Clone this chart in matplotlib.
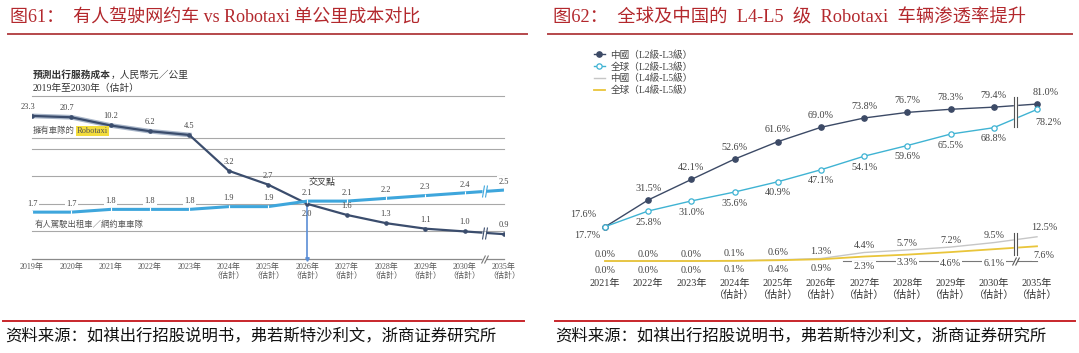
import numpy as np
import matplotlib
matplotlib.use("Agg")
import matplotlib.pyplot as plt
from matplotlib.lines import Line2D
from matplotlib.markers import MarkerStyle
from matplotlib.transforms import Affine2D, offset_copy

plt.rcParams['font.family'] = ['Liberation Serif', 'Noto Sans CJK SC', 'DejaVu Sans']

# ---- data: figure 61 (cost per km, RMB) ----
years_61 = ['2019年', '2020年', '2021年', '2022年', '2023年',
            '2024年\n（估計）', '2025年\n（估計）', '2026年\n（估計）', '2027年\n（估計）',
            '2028年\n（估計）', '2029年\n（估計）', '2030年\n（估計）', '2035年\n（估計）']
robotaxi_cost = [23.3, 20.7, 10.2, 6.2, 4.5, 3.2, 2.7, 2.0, 1.6, 1.3, 1.1, 1.0, 0.9]
human_cost = [1.7, 1.7, 1.8, 1.8, 1.8, 1.9, 1.9, 2.1, 2.1, 2.2, 2.3, 2.4, 2.5]
cross_idx = 7

# ---- data: figure 62 (penetration, %) ----
years_62 = ['2021年', '2022年', '2023年', '2024年\n（估計）', '2025年\n（估計）',
            '2026年\n（估計）', '2027年\n（估計）', '2028年\n（估計）', '2029年\n（估計）',
            '2030年\n（估計）', '2035年\n（估計）']
china_l23 = [17.6, 31.5, 42.1, 52.6, 61.6, 69.0, 73.8, 76.7, 78.3, 79.4, 81.0]
global_l23 = [17.7, 25.8, 31.0, 35.6, 40.9, 47.1, 54.1, 59.6, 65.5, 68.8, 78.2]
china_l45 = [0.0, 0.0, 0.0, 0.1, 0.6, 1.3, 4.4, 5.7, 7.2, 9.5, 12.5]
global_l45 = [0.0, 0.0, 0.0, 0.1, 0.4, 0.9, 2.3, 3.3, 4.6, 6.1, 7.6]
legend_62 = ['中國（L2級-L3級）', '全球（L2級-L3級）', '中國（L4級-L5級）', '全球（L4級-L5級）']

RED = '#b3282d'
W, H = 1079, 353


def fx(x):
    return x / W


def fy(y):
    return 1 - y / H


fig = plt.figure(figsize=(W / 100, H / 100), dpi=100)
fig.patch.set_facecolor('white')


def brk(ax, x, y, color, size=9, angle=-12):
    # little "||" break mark with a white gap
    ax.plot([x], [y], marker='s', ms=3.2, color='white', mec='none', zorder=8, clip_on=False)
    ms = MarkerStyle('|', transform=Affine2D().rotate_deg(angle))
    for dx in (-1.3, 1.3):
        tr = offset_copy(ax.transData, fig=fig, x=dx, y=0, units='points')
        ax.plot([x], [y], marker=ms, ms=size, color=color, mew=0.8,
                transform=tr, zorder=9, clip_on=False, linestyle='none')


# ================= left chart =================
K, C = 4.5, 0.42


def fwd(v):
    v = np.asarray(v, float)
    with np.errstate(all='ignore'):
        return np.where(v > K, K + C * np.log(np.maximum(v, 1e-12) / K), v)


def inv(p):
    p = np.asarray(p, float)
    with np.errstate(all='ignore'):
        return np.where(p > K, K * np.exp(np.minimum(p - K, 50) / C), p)


ax1 = fig.add_axes([fx(32), 1 - 259 / H, 472 / W, 163 / H])
ax1.set_yscale('function', functions=(fwd, inv))
ax1.set_xlim(0, 12)
ax1.set_ylim(0, 130)
for s in ax1.spines.values():
    s.set_visible(False)
ax1.set_yticks([])
x1 = np.arange(len(years_61))
ax1.set_xticks(x1)
ax1.set_xticklabels(years_61, fontsize=5.8, color='#555', linespacing=1.1)
ax1.tick_params(axis='x', length=0, pad=3)

for g in [1, 2, 3, 4, 4.4, 130]:
    ax1.plot([0, 12], [g, g], color='#a8a8a8', lw=0.8, zorder=1, clip_on=False)
ax1.plot([0, 12], [0, 0], color='#8a8a8a', lw=0.9, zorder=1, clip_on=False)

# crossing marker
ax1.plot([cross_idx, cross_idx], [0, robotaxi_cost[cross_idx]], color='#5b8ed6', lw=1.2, zorder=2)
ax1.plot([cross_idx], [0], marker='v', ms=2.5, color='#5b8ed6', zorder=2, clip_on=False)

ax1.plot(x1[:5], robotaxi_cost[:5], color='#a9b6c9', lw=3.4, zorder=2)
ax1.plot(x1, robotaxi_cost, color='#3b4d6d', lw=1.6, marker='o', ms=2.3, zorder=3)
ax1.plot(x1, human_cost, color='#3ea6dc', lw=2.2, marker='|', ms=3, mec='white', mew=0.8, zorder=4)

for i, v in enumerate(robotaxi_cost):
    dx, dy = (-3, 6.5) if i < 2 else (0, 6.5)
    if i == cross_idx:
        dy = -7.5
    ax1.annotate(f'{v:.1f}', (i, v), xytext=(dx, dy), textcoords='offset points',
                 ha='center', va='center', fontsize=6, color='#444', zorder=6)
for i, v in enumerate(human_cost):
    ax1.annotate(f'{v:.1f}', (i, v), xytext=(0, 6), textcoords='offset points',
                 ha='center', va='center', fontsize=6, color='#444', zorder=6,
                 bbox=dict(boxstyle='square,pad=0.15', fc='white', ec='none'))

brk(ax1, 11.5, (human_cost[11] + human_cost[12]) / 2, '#3ea6dc', size=8, angle=-8)
brk(ax1, 11.5, (robotaxi_cost[11] + robotaxi_cost[12]) / 2, '#3b4d6d', size=8, angle=-8)
brk(ax1, 11.5, 0, '#777', size=6, angle=-30)

fig.text(fx(33), fy(75), '預測出行服務成本', fontsize=7, weight='bold', color='#333', va='center')
fig.text(fx(111), fy(75), '，人民幣元／公里', fontsize=7, color='#333', va='center')
fig.text(fx(33), fy(88), '2019年至2030年（估計）', fontsize=7, color='#333', va='center')
fig.text(fx(33), fy(131), '擁有車隊的', fontsize=6, color='#555', va='center')
fig.text(fx(77), fy(131), 'Robotaxi', fontsize=6, color='#555', va='center',
         bbox=dict(boxstyle='square,pad=0.1', fc='#f3dc3c', ec='none'))
fig.text(fx(35), fy(225), '有人駕駛出租車／網約車車隊', fontsize=6, color='#555', va='center')
fig.text(fx(322), fy(182), '交叉點', fontsize=6.5, color='#333', ha='center', va='center')

# ================= right chart =================
ax2 = fig.add_axes([fx(583.4), 1 - 270.7 / H, 475.2 / W, 184.1 / H])
ax2.set_xlim(-0.5, 10.5)
ax2.set_ylim(-5, 90)
for s in ax2.spines.values():
    s.set_visible(False)
ax2.set_yticks([])
x2 = np.arange(len(years_62))
ax2.set_xticks(x2)
ax2.set_xticklabels(years_62, fontsize=7.3, color='#333', linespacing=1.15)
ax2.tick_params(axis='x', length=0, pad=6)

C_CN23, C_GL23, C_CN45, C_GL45 = '#3c4a66', '#3fb3d3', '#c6c6c6', '#e9c53a'
ax2.plot([5.5, 10], [0, 0], color='#777', lw=0.8, zorder=1)
h1, = ax2.plot(x2, china_l23, color=C_CN23, lw=1.0, marker='o', ms=3.8, zorder=4)
h2, = ax2.plot(x2, global_l23, color=C_GL23, lw=1.0, marker='o', ms=3.8, mfc='white', mew=0.9, zorder=4)
h3, = ax2.plot(x2, china_l45, color=C_CN45, lw=1.0, zorder=2)
h4, = ax2.plot(x2, global_l45, color=C_GL45, lw=1.3, zorder=3)

lab = dict(ha='center', va='center', fontsize=7.3, color='#444', textcoords='offset points', zorder=6)
for i, v in enumerate(china_l23):
    dx, dy = 0, 8.6
    if i == 0:
        dx, dy = -16, 9
    if i == len(china_l23) - 1:
        dx = 6
    ax2.annotate(f'{v:.1f}%', (i, v), xytext=(dx, dy), **lab)
for i, v in enumerate(global_l23):
    dx, dy = 0, -8
    if i == 0:
        dx, dy = -13, -6.5
    if i == len(global_l23) - 1:
        dx, dy = 8, -9.4
    ax2.annotate(f'{v:.1f}%', (i, v), xytext=(dx, dy), **lab)
for i, v in enumerate(china_l45):
    dx, dy = (5, 6.5) if i == len(china_l45) - 1 else (0, 5)
    ax2.annotate(f'{v:.1f}%', (i, v), xytext=(dx, dy), **lab)
gl_dy = [-6.5] * 6 + [-7.5, -6, -8, -10, -6.5]
for i, v in enumerate(global_l45):
    dx = 5 if i == len(global_l45) - 1 else 0
    ax2.annotate(f'{v:.1f}%', (i, v), xytext=(dx, gl_dy[i]),
                 bbox=dict(boxstyle='square,pad=0.12', fc='white', ec='none'), **lab)

# break marks between 2030 and 2035
xb = 9.5
top_vals = [(china_l23[9] + china_l23[10]) / 2, (global_l23[9] + global_l23[10]) / 2]
low_vals = [(china_l45[9] + china_l45[10]) / 2, (global_l45[9] + global_l45[10]) / 2]
for vals, pad in ((top_vals, 4.5), (low_vals, 3.5)):
    y0, y1 = min(vals) - pad, max(vals) + pad
    ax2.fill_betweenx([y0, y1], xb - 0.035, xb + 0.035, color='white', zorder=7)
    for d in (-0.035, 0.035):
        ax2.plot([xb + d, xb + d], [y0, y1], color='#555', lw=0.8, zorder=8)
brk(ax2, xb, 0, '#555', size=7, angle=-30)

ax2.legend([h1, h2, h3, h4], legend_62, loc='upper left', bbox_to_anchor=(fx(594), fy(50)),
           bbox_transform=fig.transFigure, frameon=False, handlelength=1.1,
           handletextpad=0.6, labelspacing=0.25, borderaxespad=0, borderpad=0,
           prop={'size': 6.9}, labelcolor='#444')

# ================= titles and footers =================
fig.text(fx(10), fy(18), '图61：  有人驾驶网约车 vs Robotaxi 单公里成本对比',
         fontsize=13, color=RED, va='center')
fig.text(fx(553), fy(18), '图62：  全球及中国的  L4-L5  级  Robotaxi  车辆渗透率提升',
         fontsize=13.2, color=RED, va='center')
for a, b in ((8, 527), (548, 1072)):
    fig.add_artist(Line2D([fx(a), fx(b)], [fy(34), fy(34)], color='#b5474b', lw=1.4))
for a, b in ((3, 524), (555, 1075)):
    fig.add_artist(Line2D([fx(a), fx(b)], [fy(321), fy(321)], color='#c8262b', lw=1.4))
src = '资料来源：如祺出行招股说明书，弗若斯特沙利文，浙商证券研究所'
fig.text(fx(5), fy(336), src, fontsize=11.8, color='#111', va='center')
fig.text(fx(555), fy(336), src, fontsize=11.8, color='#111', va='center')

fig.savefig('out.png', dpi=100, facecolor='white')
